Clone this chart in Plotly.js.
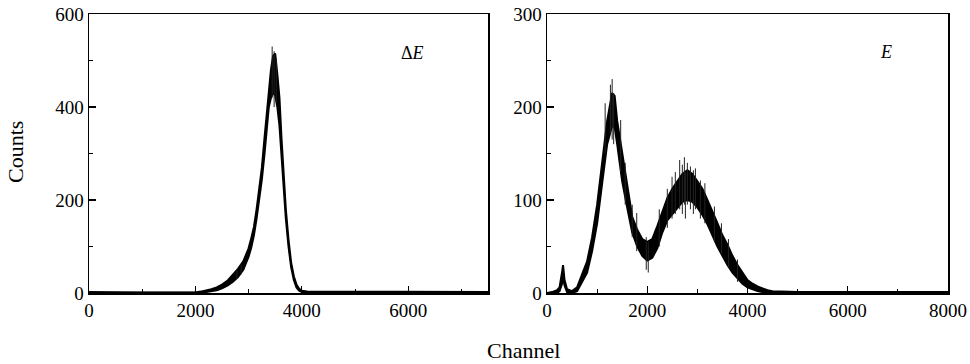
<!DOCTYPE html>
<html>
<head>
<meta charset="utf-8">
<script src="https://cdn.plot.ly/plotly-3.0.1.min.js"></script>
<style>html,body{margin:0;padding:0;background:#fff;}#chart{width:970px;height:364px;}</style>
</head>
<body>
<div id="chart"></div>
<script>
// ΔE spectrum: channel, lower and upper edge of the noisy band (counts)
const deChannels = [0, 500, 1000, 1500, 2000, 2100, 2200, 2300, 2400, 2500, 2600, 2700, 2800, 2900, 3000, 3050, 3100, 3150, 3200, 3250, 3300, 3340, 3380, 3420, 3460, 3500, 3540, 3580, 3620, 3660, 3700, 3750, 3800, 3850, 3900, 3950, 4000, 4100, 4200, 4500, 5000, 5500, 6000, 6500, 7000, 7500];
const deLower = [0, 0, 0, 0, 0, 1, 2, 4, 6, 10, 16, 24, 34, 50, 78, 98, 124, 160, 200, 245, 300, 360, 400, 420, 430, 425, 400, 360, 290, 225, 160, 100, 55, 28, 12, 5, 2, 1, 0, 0, 0, 0, 0, 0, 0, 0];
const deUpper = [2, 1, 1, 1, 1, 3, 5, 8, 12, 18, 26, 38, 52, 68, 96, 118, 142, 180, 222, 270, 335, 385, 440, 480, 510, 515, 470, 420, 330, 255, 180, 115, 65, 36, 18, 9, 5, 3, 3, 3, 2, 3, 3, 2, 3, 2];
// ΔE: isolated noise spikes (channel, low, high)
const deSpikeCh = [2780, 2860, 3443, 3480, 3520];
const deSpikeLo = [30, 40, 420, 400, 410];
const deSpikeHi = [50, 62, 530, 520, 505];

// E spectrum: channel, lower and upper edge of the noisy band (counts)
const eChannels = [0, 100, 200, 250, 300, 320, 350, 400, 500, 600, 700, 800, 900, 1000, 1100, 1200, 1300, 1350, 1400, 1500, 1600, 1700, 1800, 1900, 2000, 2100, 2200, 2300, 2400, 2500, 2600, 2700, 2800, 2900, 3000, 3100, 3200, 3300, 3400, 3500, 3600, 3700, 3800, 3900, 4000, 4100, 4200, 4300, 4400, 4500, 5000, 6000, 7000, 8000];
const eLower = [0, 0, 0, 2, 10, 18, 8, 1, 0, 2, 12, 22, 45, 75, 118, 160, 180, 178, 160, 120, 92, 65, 50, 40, 35, 38, 48, 65, 78, 85, 92, 98, 100, 98, 92, 84, 74, 62, 50, 40, 30, 22, 16, 10, 6, 4, 2, 1, 0, 0, 0, 0, 0, 0];
const eUpper = [0, 1, 3, 6, 22, 30, 14, 4, 2, 6, 20, 34, 60, 95, 140, 185, 215, 212, 185, 150, 114, 82, 68, 58, 55, 58, 72, 88, 102, 112, 120, 128, 132, 128, 120, 112, 100, 88, 75, 62, 52, 40, 30, 22, 14, 10, 7, 5, 3, 2, 1, 1, 1, 1];
// E: isolated noise spikes (channel, low, high)
const eSpikeCh = [1160, 1265, 1300, 1330, 1470, 1560, 1700, 1790, 1980, 2020, 2240, 2400, 2495, 2560, 2647, 2700, 2741, 2761, 2800, 2861, 2920, 2961, 3060, 3150, 3340, 3480, 3620, 3800];
const eSpikeLo = [150, 170, 165, 160, 130, 95, 60, 45, 25, 22, 50, 70, 80, 85, 90, 85, 95, 80, 95, 90, 85, 90, 80, 75, 55, 42, 28, 12];
const eSpikeHi = [204, 224, 230, 215, 186, 140, 95, 86, 60, 55, 90, 112, 125, 130, 143, 138, 146, 130, 140, 136, 132, 134, 121, 118, 93, 75, 58, 36];

const deTicks = [0, 2000, 4000, 6000];
const eTicks = [0, 2000, 4000, 6000, 8000];
const deYTicks = [0, 200, 400, 600];
const eYTicks = [0, 100, 200, 300];

const font = {family: 'Liberation Serif, Times New Roman, serif', color: '#000'};

function band(x, lo, hi, xa, ya) {
  return [
    {x: x, y: lo, xaxis: xa, yaxis: ya, mode: 'lines', line: {color: '#000', width: 2}, hoverinfo: 'skip', showlegend: false},
    {x: x, y: hi, xaxis: xa, yaxis: ya, mode: 'lines', fill: 'tonexty', fillcolor: '#000', line: {color: '#000', width: 2}, hoverinfo: 'skip', showlegend: false}
  ];
}
function spikes(ch, lo, hi, xa, ya) {
  const xs = [], ys = [];
  ch.forEach((c, i) => { xs.push(c, c, null); ys.push(lo[i], hi[i], null); });
  return {x: xs, y: ys, xaxis: xa, yaxis: ya, mode: 'lines', line: {color: '#222', width: 1}, hoverinfo: 'skip', showlegend: false};
}

const data = [].concat(
  band(deChannels, deLower, deUpper, 'x', 'y'),
  [spikes(deSpikeCh, deSpikeLo, deSpikeHi, 'x', 'y')],
  band(eChannels, eLower, eUpper, 'x2', 'y2'),
  [spikes(eSpikeCh, eSpikeLo, eSpikeHi, 'x2', 'y2')]
);

function xaxis(domain, range, ticks, anchor) {
  return {
    domain: domain, range: range, anchor: anchor,
    tickmode: 'array', tickvals: ticks, ticktext: ticks.map(String),
    ticks: 'inside', ticklen: 7, tickwidth: 1.2, tickcolor: '#000',
    minor: {ticks: 'inside', ticklen: 4, tickwidth: 1, dtick: 1000, tick0: 0, tickcolor: '#000'},
    showline: true, linecolor: '#000', linewidth: 1.5, mirror: true,
    showgrid: false, zeroline: false,
    tickfont: Object.assign({size: 19}, font)
  };
}
function yaxis(domain, range, ticks, minorStep, anchor) {
  return {
    domain: domain, range: range, anchor: anchor,
    tickmode: 'array', tickvals: ticks, ticktext: ticks.map(String),
    ticks: 'inside', ticklen: 7, tickwidth: 1.2, tickcolor: '#000',
    minor: {ticks: 'inside', ticklen: 4, tickwidth: 1, dtick: minorStep, tick0: 0, tickcolor: '#000'},
    showline: true, linecolor: '#000', linewidth: 1.5, mirror: true,
    showgrid: false, zeroline: false,
    tickfont: Object.assign({size: 19}, font)
  };
}

const yDom = [1 - 293 / 364, 1 - 14 / 364];
const layout = {
  width: 970, height: 364,
  margin: {l: 0, r: 0, t: 0, b: 0},
  paper_bgcolor: '#fff', plot_bgcolor: '#fff',
  showlegend: false,
  xaxis: xaxis([89 / 970, 488 / 970], [0, 7500], deTicks, 'y'),
  yaxis: yaxis(yDom, [0, 600], deYTicks, 100, 'x'),
  xaxis2: xaxis([547 / 970, 948 / 970], [0, 8000], eTicks, 'y2'),
  yaxis2: yaxis(yDom, [0, 300], eYTicks, 50, 'x2'),
  annotations: [
    {text: 'Counts', xref: 'paper', yref: 'paper', x: 15 / 970, y: 1 - 152 / 364, textangle: -90, showarrow: false, font: Object.assign({size: 22}, font), xanchor: 'center', yanchor: 'middle'},
    {text: 'Channel', xref: 'paper', yref: 'paper', x: 523 / 970, y: 1 - 350 / 364, showarrow: false, font: Object.assign({size: 22}, font), xanchor: 'center', yanchor: 'middle'},
    {text: 'Δ<i>E</i>', xref: 'paper', yref: 'paper', x: 412 / 970, y: 1 - 53 / 364, showarrow: false, font: Object.assign({size: 18}, font), xanchor: 'center', yanchor: 'middle'},
    {text: '<i>E</i>', xref: 'paper', yref: 'paper', x: 886 / 970, y: 1 - 52 / 364, showarrow: false, font: Object.assign({size: 18}, font), xanchor: 'center', yanchor: 'middle'}
  ]
};

Plotly.newPlot('chart', data, layout, {staticPlot: true, displayModeBar: false});
</script>
</body>
</html>
